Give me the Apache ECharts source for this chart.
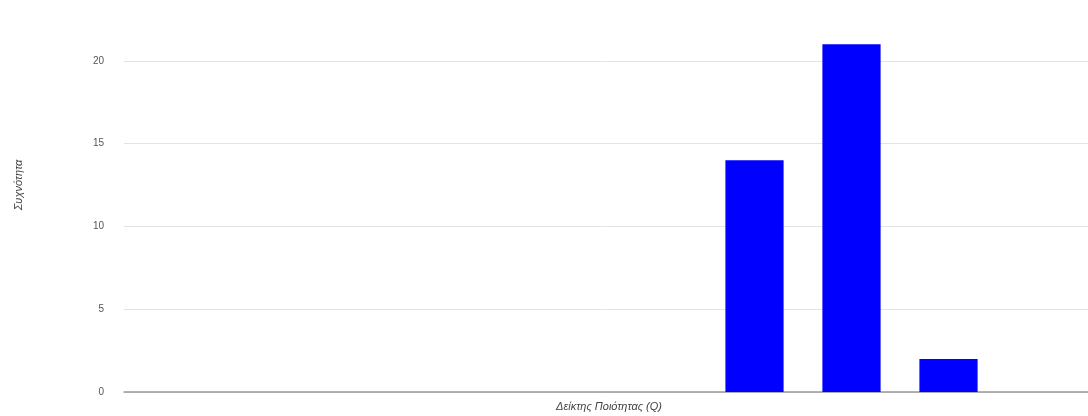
<!DOCTYPE html>
<html>
<head>
<meta charset="utf-8">
<script src="https://cdn.jsdelivr.net/npm/echarts@6/dist/echarts.min.js"></script>
<style>html,body{margin:0;padding:0;background:#fff}#c{width:1088px;height:416px}</style>
</head>
<body>
<div id="c"></div>
<script>
var categories = ['1','2','3','4','5','6','7','8','9','10'];
var frequency = [0,0,0,0,0,0,14,21,2,0];
var yTicks = [0,5,10,15,20,25];
var xTitle = 'Δείκτης Ποιότητας (Q)';
var yTitle = 'Συχνότητα';

var chart = echarts.init(document.getElementById('c'));
chart.setOption({
  animation: false,
  grid: {left: 124, right: -6, top: -22, bottom: 24, containLabel: false, outerBoundsMode: 'none'},
  xAxis: {
    type: 'category',
    data: categories,
    name: xTitle,
    nameLocation: 'middle',
    nameGap: 9,
    nameTextStyle: {fontFamily: 'Liberation Sans', fontSize: 11, fontStyle: 'italic', color: '#444'},
    axisLine: {lineStyle: {color: '#999', width: 1.5}},
    axisTick: {show: false},
    axisLabel: {show: false}
  },
  yAxis: {
    type: 'value',
    min: yTicks[0],
    max: yTicks[yTicks.length - 1],
    interval: 5,
    name: yTitle,
    nameLocation: 'middle',
    nameGap: 100,
    nameTextStyle: {fontFamily: 'Liberation Sans', fontSize: 11, fontStyle: 'italic', color: '#444'},
    axisLine: {show: false},
    axisTick: {show: false},
    axisLabel: {fontFamily: 'Liberation Sans', fontSize: 10, color: '#555', margin: 20},
    splitLine: {lineStyle: {color: '#e3e3e3', width: 1}}
  },
  series: [{
    type: 'bar',
    data: frequency,
    barCategoryGap: '40%',
    itemStyle: {color: '#0000ff'}
  }]
});
</script>
</body>
</html>
